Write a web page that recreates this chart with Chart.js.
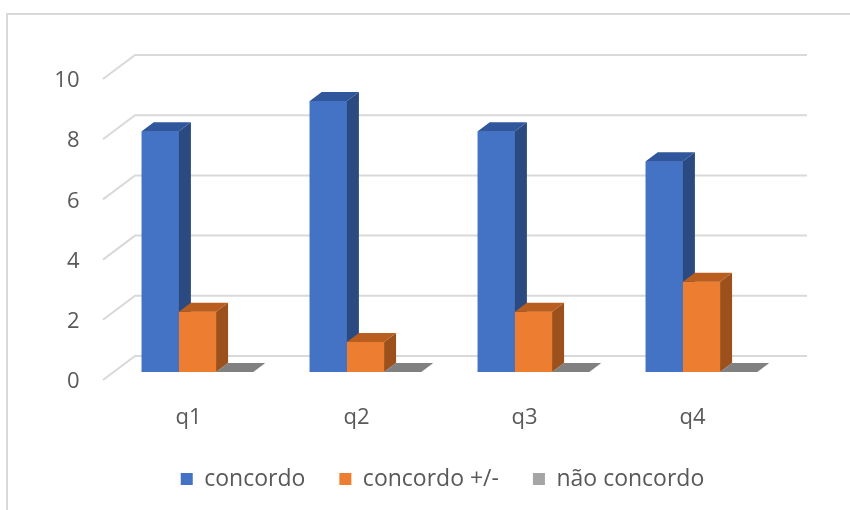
<!DOCTYPE html>
<html>
<head>
<meta charset="utf-8">
<script src="https://cdn.jsdelivr.net/npm/chart.js@4.4.1/dist/chart.umd.min.js"></script>
<style>
html,body{margin:0;padding:0;background:#fff;}
#wrap{width:850px;height:510px;}
</style>
</head>
<body>
<div id="wrap"><canvas id="chart" width="850" height="510"></canvas></div>
<script>

// data
const categories=["q1","q2","q3","q4"];
const concordo=[8,9,8,7];
const concordoMais=[2,1,2,3];
const naoConcordo=[0,0,0,0];
const yTicks=[0,2,4,6,8,10];

// faces of the fake 3D bars: front, side, top
const faceColors=[
["#4472C4","#2B4A82","#30569C"],
["#ED7D31","#9C501C","#B95E1F"],
["#A5A5A5","#6F6F6F","#808080"]
];

const DEPTH_X=12, DEPTH_Y=-9;   // bar depth
const WALL_X=21.5, WALL_Y=-16;  // back wall offset from bar plane
const FRONT_X=-10.5, FRONT_Y=8; // front floor edge offset

const frame={
id:"frame",
beforeDraw(chart){
const c=chart.ctx;
c.save();
c.fillStyle="#fff";
c.fillRect(0,0,chart.width,chart.height);
c.strokeStyle="#d9d9d9";
c.lineWidth=2;
c.beginPath();
c.moveTo(7,510);
c.lineTo(7,14);
c.lineTo(850,14);
c.stroke();
c.restore();
}
};

const wall={
id:"wall",
beforeDatasetsDraw(chart){
const c=chart.ctx;
const y=chart.scales.y;
const a=chart.chartArea;
c.save();
c.strokeStyle="#d9d9d9";
c.lineWidth=2;
yTicks.forEach(function(v){
let py=y.getPixelForValue(v);
c.beginPath();
c.moveTo(a.left+FRONT_X,py+FRONT_Y);
c.lineTo(a.left+WALL_X,py+WALL_Y);
c.lineTo(a.right+WALL_X,py+WALL_Y);
c.stroke();
});
c.restore();
}
};

function poly(c,pts,color){
c.fillStyle=color;
c.beginPath();
c.moveTo(pts[0][0],pts[0][1]);
for(let i=1;i<pts.length;i++){c.lineTo(pts[i][0],pts[i][1]);}
c.closePath();
c.fill();
}

const bars3d={
id:"bars3d",
afterDatasetsDraw(chart){
const c=chart.ctx;
c.save();
for(let k=0;k<categories.length;k++){
for(let d=0;d<chart.data.datasets.length;d++){
const bar=chart.getDatasetMeta(d).data[k];
const col=faceColors[d];
const l=bar.x-bar.width/2, r=bar.x+bar.width/2;
const t=bar.y, b=bar.base;
if(b-t>0){
poly(c,[[l,t],[r,t],[r,b],[l,b]],col[0]);
poly(c,[[r,t],[r+DEPTH_X,t+DEPTH_Y],[r+DEPTH_X,b+DEPTH_Y],[r,b]],col[1]);
}
poly(c,[[l,t],[r,t],[r+DEPTH_X,t+DEPTH_Y],[l+DEPTH_X,t+DEPTH_Y]],col[2]);
}
}
c.restore();
}
};

const fontFamily="'Open Sans', sans-serif";

new Chart(document.getElementById("chart").getContext("2d"),{
type:"bar",
data:{
labels:categories,
datasets:[
{label:"concordo",data:concordo,backgroundColor:faceColors[0][0]},
{label:"concordo +/-",data:concordoMais,backgroundColor:faceColors[1][0]},
{label:"não concordo",data:naoConcordo,backgroundColor:faceColors[2][0]}
]
},
options:{
responsive:false,
animation:false,
events:[],
layout:{padding:{top:71,right:0,bottom:9.5,left:35}},
datasets:{bar:{categoryPercentage:0.664,barPercentage:1}},
plugins:{
tooltip:{enabled:false},
legend:{
position:"bottom",
labels:{
boxWidth:12,
boxHeight:12,
padding:34,
color:"#595959",
font:{family:fontFamily,size:23}
}
}
},
scales:{
x:{
grid:{display:false},
border:{display:false},
ticks:{color:"#595959",font:{family:fontFamily,size:22},padding:25,labelOffset:-9,maxRotation:0},
afterFit(s){s.height=61.5;}
},
y:{
min:0,max:10,
afterBuildTicks(s){s.ticks=yTicks.map(function(v){return {value:v};});},
grid:{display:false},
border:{display:false},
ticks:{color:"#595959",font:{family:fontFamily,size:22},padding:26,labelOffset:10},
afterFit(s){s.width=78.5;}
},
yRight:{
position:"right",
min:0,max:10,
grid:{display:false},
border:{display:false},
ticks:{display:false},
afterFit(s){s.width=64.5;}
}
}
},
plugins:[frame,wall,bars3d]
});

</script>
</body>
</html>
